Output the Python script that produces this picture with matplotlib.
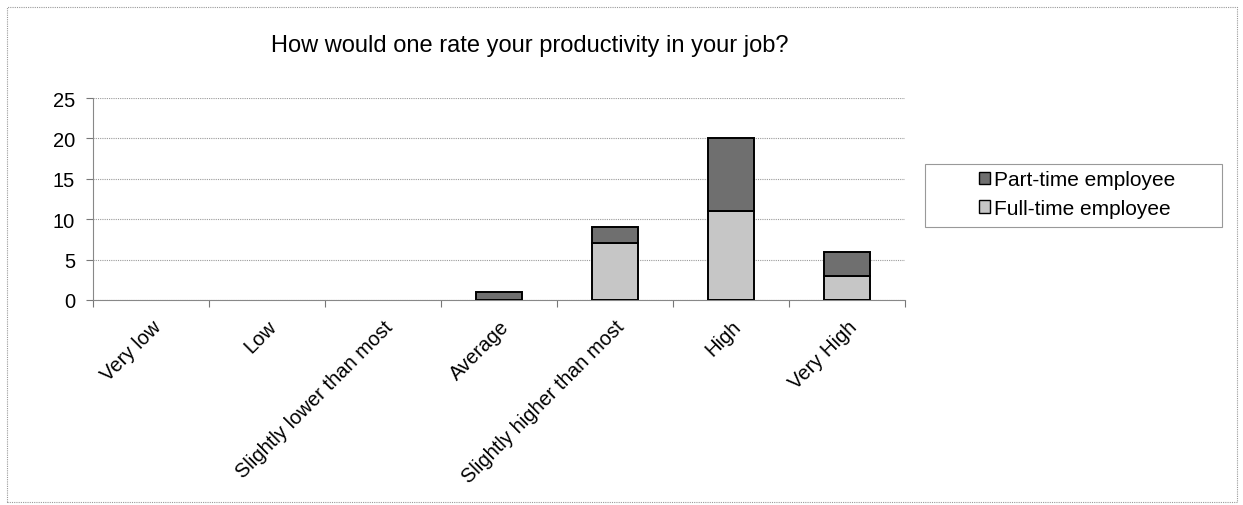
import numpy as np
import matplotlib.pyplot as plt
from matplotlib.patches import Rectangle, Patch

plt.rcParams['font.family'] = ['Liberation Sans', 'DejaVu Sans']

# data
categories = ["Very low", "Low", "Slightly lower than most", "Average",
              "Slightly higher than most", "High", "Very High"]
full_time = [0, 0, 0, 0, 7, 11, 3]
part_time = [0, 0, 0, 1, 2, 9, 3]
yticks = [0, 5, 10, 15, 20, 25]

full_col = '#c6c6c6'
part_col = '#6f6f6f'

W, H = 1243, 506
fig = plt.figure(figsize=(W/100, H/100), dpi=100)
ax = fig.add_axes([93/W, 1 - 301/H, (905 - 93)/W, (301 - 99)/H])

x = np.arange(len(categories))
b_full = ax.bar(x, full_time, width=0.4, color=full_col, edgecolor='black',
                linewidth=1.4, zorder=3)
b_part = ax.bar(x, part_time, width=0.4, bottom=full_time, color=part_col,
                edgecolor='black', linewidth=1.4, zorder=3)
# empty segments are not drawn
for p in list(b_full) + list(b_part):
    if p.get_height() == 0:
        p.set_visible(False)

ax.set_xlim(-0.5, len(categories) - 0.5)
ax.set_ylim(0, 25)
ax.set_yticks(yticks)
ax.yaxis.grid(True, color='#9a9a9a', linestyle=(0, (1, 1)), linewidth=0.8)
ax.set_axisbelow(True)

# ticks between categories, labels at the centres
ax.set_xticks(np.arange(-0.5, len(categories)), minor=False)
ax.set_xticklabels([])
ax.set_xticks(x, minor=True)
ax.set_xticklabels(categories, minor=True, rotation=45, ha='right',
                   rotation_mode='anchor', fontsize=14.5)
ax.tick_params(axis='x', which='minor', length=0, pad=12)
ax.tick_params(axis='x', which='major', length=5, color='#777777', direction='out')
ax.tick_params(axis='y', length=5, color='#777777', labelsize=14.5, pad=8)

for s in ['top', 'right']:
    ax.spines[s].set_visible(False)
for s in ['left', 'bottom']:
    ax.spines[s].set_color('#888888')
    ax.spines[s].set_linewidth(0.8)

fig.text(530/W, 1 - 46/H, "How would one rate your productivity in your job?",
         ha='center', va='center', fontsize=17)

# legend box drawn separately so its width matches
fig.patches.append(Rectangle((925/W, 1 - 228/H), 297/W, 63/H, transform=fig.transFigure,
                             fill=True, facecolor='white', edgecolor='#999999',
                             linewidth=0.8))
handles = [Patch(facecolor=part_col, edgecolor='black', linewidth=1.0),
           Patch(facecolor=full_col, edgecolor='black', linewidth=1.0)]
leg = fig.legend(handles, ['Part-time employee', 'Full-time employee'],
                 loc='center', bbox_to_anchor=(1077/W, 1 - 195/H),
                 fontsize=15, frameon=False,
                 handlelength=0.55, handleheight=0.55, handletextpad=0.2,
                 borderpad=0, labelspacing=0.45, borderaxespad=0)

# outer chart border
fig.patches.append(Rectangle((7/W, 1 - 503/H), 1230/W, 495/H, transform=fig.transFigure,
                             fill=False, edgecolor='#999999', linewidth=0.8,
                             linestyle=(0, (1, 1))))

fig.savefig('out.png', dpi=100)
